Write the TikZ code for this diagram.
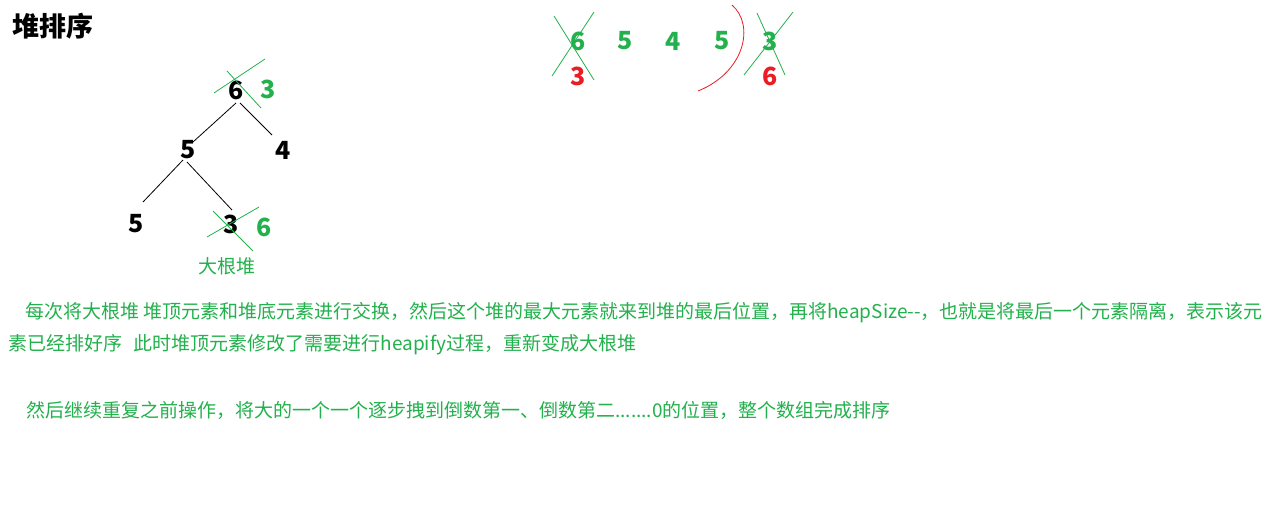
\documentclass[tikz,border=0pt]{standalone}
\usepackage{fontspec}
\setmainfont{Noto Sans CJK SC}
\usetikzlibrary{calc}
\definecolor{pgreen}{RGB}{34,177,76}
\definecolor{pred}{RGB}{237,28,36}
\begin{document}
\begin{tikzpicture}[x=1pt,y=-1pt,
  num/.style={font=\fontsize{25}{25}\selectfont\bfseries, inner sep=0pt},
  gnum/.style={num, text=pgreen},
  rnum/.style={num, text=pred},
  edge/.style={draw=black, line width=0.8pt},
  cross/.style={draw=pgreen, line width=0.8pt},
  desc/.style={font=\fontsize{19}{19}\selectfont, text=pgreen, inner sep=0pt, anchor=base west}]
\useasboundingbox[fill=white] (0,0) rectangle (1283,523);

% title
\node[font=\fontsize{27}{27}\selectfont\bfseries, inner sep=0pt, anchor=west] (title) at (12,26) {堆排序};

% tree
\node[num] (n6) at (236,90) {6};
\node[gnum] (g3) at (268,89) {3};
\node[num] (n5a) at (188,150) {5};
\node[num] (n4) at (283,150) {4};
\node[num] (n5b) at (136,224) {5};
\node[num] (n3) at (231,224) {3};
\node[gnum] (g6) at (264,227) {6};
\node[font=\fontsize{19}{19}\selectfont, text=pgreen, inner sep=0pt] (lbl) at (227,266) {大根堆};

\draw[edge] ($(n6)+(0,13)$) -- ($(n5a)+(5,-8)$);
\draw[edge] ($(n6)+(4,13)$) -- ($(n4)+(-11,-15)$);
\draw[edge] ($(n5a)+(-5,10)$) -- ($(n5b)+(7,-22)$);
\draw[edge] ($(n5a)+(-1,12)$) -- ($(n3)+(1,-14)$);

\draw[cross] ($(n6)+(-22,3)$) -- ($(n6)+(29,-31)$);
\draw[cross] ($(n6)+(-9,-19)$) -- ($(n6)+(25,18)$);
\draw[cross] ($(n3)+(-24,13)$) -- ($(n3)+(28,-17)$);
\draw[cross] ($(n3)+(-18,-13)$) -- ($(n3)+(22,27)$);

% array
\node[gnum] (a1) at (578,41) {6};
\node[rnum] (r1) at (578,76) {3};
\node[gnum] (a2) at (625,41) {5};
\node[gnum] (a3) at (673,41) {4};
\node[gnum] (a4) at (722,41) {5};
\node[gnum] (a5) at (770,41) {3};
\node[rnum] (r5) at (770,76) {6};

\draw[cross] ($(a1)+(-24,-25)$) -- ($(a1)+(16,39)$);
\draw[cross] ($(a1)+(16,-29)$) -- ($(a1)+(-26,35)$);
\draw[cross] ($(a5)+(-13,-28)$) -- ($(a5)+(15,34)$);
\draw[cross] ($(a5)+(23,-29)$) -- ($(a5)+(-26,34)$);

\coordinate (ctop) at (732,5);
\coordinate (cbot) at (698,91);
\draw[draw=pred, line width=0.8pt] (ctop) .. controls (755,25) and (745,72) .. (cbot);

% description
\node[desc] (t1) at (25,318) {每次将大根堆 堆顶元素和堆底元素进行交换，然后这个堆的最大元素就来到堆的最后位置，再将heapSize-{}-，也就是将最后一个元素隔离，表示该元};
\node[desc] (t2) at (8,350) {素已经排好序\hspace{0.6em}此时堆顶元素修改了需要进行heapify过程，重新变成大根堆};
\node[desc] (t3) at (26,417) {然后继续重复之前操作，将大的一个一个逐步拽到倒数第一、倒数第二.......0的位置，整个数组完成排序};
\end{tikzpicture}
\end{document}
